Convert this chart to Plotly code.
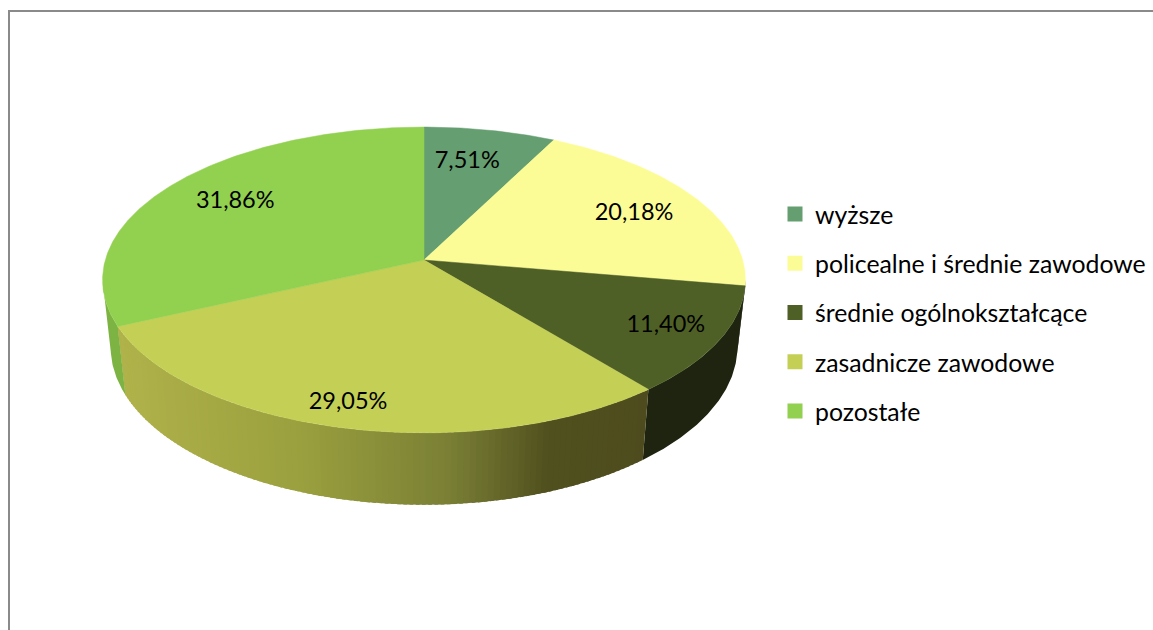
import math
import plotly.graph_objects as go

categories = ["wyższe", "policealne i średnie zawodowe", "średnie ogólnokształcące", "zasadnicze zawodowe", "pozostałe"]
values = [7.51, 20.18, 11.40, 29.05, 31.86]
top_colors = ["#659E70", "#FCFC97", "#4F6026", "#C4CF55", "#92D050"]
side_colors = ["#4A7552", "#1E2410", "#1E2410", None, "#7CB342"]
label_radius = [0.73, 0.755, 0.83, 0.875, 0.745]
label_turn = [-1.8, 2.0, 0.0, 1.0, 0.5]

# pie geometry, in page pixels (a circle seen in perspective)
CX, CY, A, B, K = 424.0, 260.0, 318.7, 150.3, 0.1304
BOTTOM_A, BOTTOM_B, BOTTOM_CY = 310.7, 155.0, 326.5
SIDE_FROM, SIDE_TO = 97.5, 262.5   # visible wall, degrees clockwise from top
GRAD = [(118, (176, 178, 74)), (300, (154, 160, 62)), (450, (122, 127, 53)), (550, (80, 80, 30)), (650, (78, 76, 30))]


def top_pt(deg, r=1.0):
    t = math.radians(deg)
    d = 1 + K * r * math.cos(t)
    return CX + A * r * math.sin(t) / d, CY - B * r * math.cos(t) / d


def bot_pt(deg):
    t = math.radians(deg)
    d = 1 + K * math.cos(t)
    return CX + BOTTOM_A * math.sin(t) / d, BOTTOM_CY - BOTTOM_B * math.cos(t) / d


def grad_color(x):
    if x <= GRAD[0][0]:
        c = GRAD[0][1]
    elif x >= GRAD[-1][0]:
        c = GRAD[-1][1]
    else:
        for (x0, c0), (x1, c1) in zip(GRAD, GRAD[1:]):
            if x0 <= x <= x1:
                f = (x - x0) / (x1 - x0)
                c = tuple(c0[i] + f * (c1[i] - c0[i]) for i in range(3))
                break
    return "rgb(%d,%d,%d)" % tuple(round(v) for v in c)


def wall(a0, a1, color):
    n = max(2, int(abs(a1 - a0) * 2))
    angs = [a0 + (a1 - a0) * i / n for i in range(n + 1)]
    tp = [top_pt(a) for a in angs]
    bp = [bot_pt(a) for a in reversed(angs)]
    pts = tp + bp + tp[:1]
    return go.Scatter(x=[p[0] for p in pts], y=[p[1] for p in pts], mode="lines", fill="toself",
                      fillcolor=color, line=dict(color=color, width=0), hoverinfo="skip", showlegend=False)


fig = go.Figure()
total = sum(values)
bounds = [0.0]
for v in values:
    bounds.append(bounds[-1] + v / total * 360)

# side wall
for i in range(len(values)):
    a0, a1 = max(bounds[i], SIDE_FROM), min(bounds[i + 1], SIDE_TO)
    if a1 <= a0:
        continue
    if side_colors[i] is not None:
        fig.add_trace(wall(a0, a1, side_colors[i]))
    else:
        step = 1.0
        a = a0
        while a < a1:
            b = min(a + step, a1)
            fig.add_trace(wall(a, min(b + 0.6, a1), grad_color(top_pt((a + b) / 2)[0])))
            a = b

# top face
for i in range(len(values)):
    a0, a1 = bounds[i], bounds[i + 1]
    n = max(2, int((a1 - a0) * 2))
    pts = [(CX, CY)] + [top_pt(a0 + (a1 - a0) * j / n) for j in range(n + 1)] + [(CX, CY)]
    fig.add_trace(go.Scatter(x=[p[0] for p in pts], y=[p[1] for p in pts], mode="lines", fill="toself",
                             fillcolor=top_colors[i], line=dict(color=top_colors[i], width=0.5),
                             hoverinfo="skip", showlegend=False))

# data labels
lab = [top_pt((bounds[i] + bounds[i + 1]) / 2 + label_turn[i], label_radius[i]) for i in range(len(values))]
fig.add_trace(go.Scatter(x=[p[0] for p in lab], y=[p[1] for p in lab], mode="text",
                         text=[f"{v:.2f}".replace(".", ",") + "%" for v in values],
                         textposition="middle center",
                         textfont=dict(family="Lato", size=23.5, color="#000000"),
                         hoverinfo="skip", showlegend=False))

# legend entries
for c, col in zip(categories, top_colors):
    fig.add_trace(go.Scatter(x=[None], y=[None], mode="markers", name=c, legendgroup=c,
                             marker=dict(symbol="square", size=15, color=col)))

fig.update_layout(
    width=1153, height=630, margin=dict(l=0, r=0, t=0, b=0),
    paper_bgcolor="white", plot_bgcolor="white",
    xaxis=dict(range=[0, 1153], visible=False, fixedrange=True),
    yaxis=dict(range=[630, 0], visible=False, fixedrange=True),
    legend=dict(x=775 / 1153, y=1 - 191.5 / 630, xanchor="left", yanchor="top",
                font=dict(family="Lato", size=24.8, color="#000000"),
                tracegroupgap=14, bgcolor="rgba(0,0,0,0)", traceorder="grouped"),
    shapes=[
        dict(type="line", x0=9, x1=9, y0=10.5, y1=630, line=dict(color="#8A8A8A", width=2)),
        dict(type="line", x0=8, x1=1153, y0=11, y1=11, line=dict(color="#8A8A8A", width=2)),
    ],
)
fig.write_html("out.html", config={"displayModeBar": False},
               post_script="document.body.style.margin='0';document.body.style.overflow='hidden';")
